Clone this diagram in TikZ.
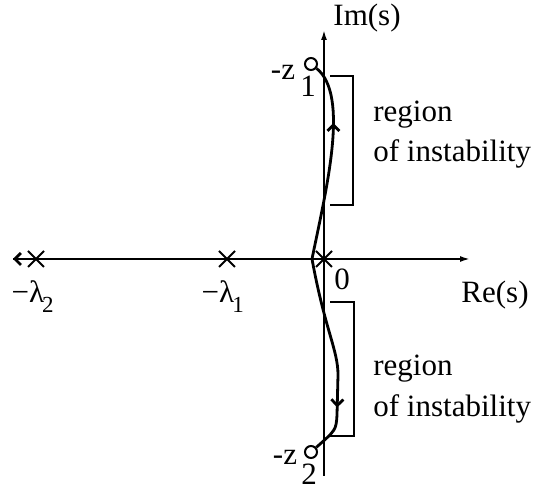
\documentclass[tikz,border=0pt]{standalone}
\usepackage{fontspec}
\setmainfont{Liberation Serif}
\usetikzlibrary{arrows.meta,shapes.misc,decorations.markings}

\begin{document}
\begin{tikzpicture}[
        x=0.5pt, y=-0.5pt,
        axis/.style={line width=0.9pt, -{Latex[length=5pt,width=3pt]}},
        locus/.style={line width=1.4pt},
        pole/.style={cross out, draw, line width=1pt, minimum size=7pt, inner sep=0pt},
        zero/.style={circle, draw, line width=1pt, minimum size=6pt, inner sep=0pt},
        brkt/.style={line width=0.7pt},
        lbl/.style={font=\fontsize{15.5}{18}\selectfont, inner sep=0pt},
        sublbl/.style={font=\fontsize{11.5}{13}\selectfont, inner sep=0pt},
        upmark/.style={postaction={decorate}, decoration={markings,
            mark=at position 0.7 with {\arrow{Straight Barb[length=3pt,width=6pt]}}}},
        downmark/.style={postaction={decorate}, decoration={markings,
            mark=at position 0.76 with {\arrow{Straight Barb[length=3pt,width=6pt]}}}},
    ]
        \useasboundingbox (0,0) rectangle (535,490);

        % Axes
        \coordinate (ReL) at (13,259);
        \coordinate (ReR) at (470,259);
        \coordinate (ImB) at (324,476);
        \coordinate (ImT) at (324,30);
        \draw[axis] (ReL) -- (ReR);
        \draw[axis] (ImB) -- (ImT);
        \node[lbl] (ImLbl) at (367,18) {Im(s)};
        \node[lbl] (ReLbl) at (495,295) {Re(s)};

        % Poles and zeros
        \node[pole] (P2) at (36,259) {};
        \node[pole] (P1) at (227,259) {};
        \node[pole] (O) at (324,259) {};
        \node[zero] (Z1) at (311,64) {};
        \node[zero] (Z2) at (311,452) {};
        \coordinate (B) at (312,259); % breakaway

        \node[lbl] (P2Lbl) at (28,292) {−λ};
        \node[sublbl] (P2Sub) at (48,305) {2};
        \node[lbl] (P1Lbl) at (218,292) {−λ};
        \node[sublbl] (P1Sub) at (238,305) {1};
        \node[lbl] (OLbl) at (342,279) {0};
        \node[lbl] (Z1Lbl) at (283,72) {-z};
        \node[lbl] (Z1Sub) at (308,86) {1};
        \node[lbl] (Z2Lbl) at (285,457) {-z};
        \node[lbl] (Z2Sub) at (309,474) {2};

        % Root locus branches
        \draw[locus, -{Straight Barb[length=3pt,width=6pt]}] (P2.center) -- (ReL);
        \draw[locus] (P1.center) -- (O.center);
        \draw[locus, upmark] (B) .. controls (326,190) and (350,95) .. (Z1);
        \draw[locus, downmark] (B) .. controls (325,330) and (338,350) .. (338,375)
            -- (337,415) .. controls (336,430) .. (Z2);

        % Regions of instability
        \draw[brkt] (330,76) -- (353,76) -- (353,205) -- (330,205);
        \draw[brkt] (330,302) -- (354,302) -- (354,436) -- (330,436);
        \node[lbl, anchor=base west] (R1a) at (373,122) {region};
        \node[lbl, anchor=base west] (R1b) at (373,162) {of instability};
        \node[lbl, anchor=base west] (R2a) at (373,376) {region};
        \node[lbl, anchor=base west] (R2b) at (373,417) {of instability};
    \end{tikzpicture}
\end{document}
